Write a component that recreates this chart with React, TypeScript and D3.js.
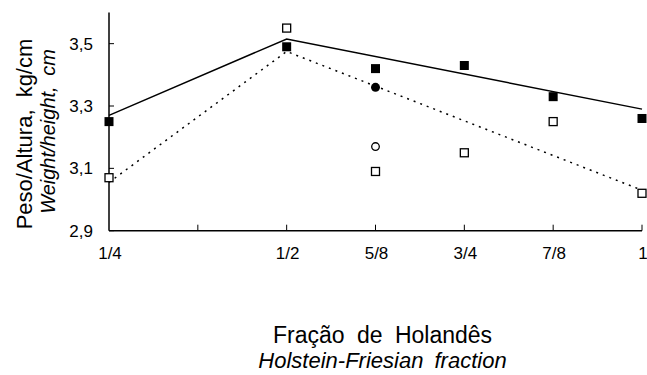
import { useEffect, useRef } from 'react';
import * as d3 from 'd3';

// x positions are Holstein fractions
const fractions = [0.25, 0.5, 0.625, 0.75, 0.875, 1];
const tickValues = [0.25, 0.375, 0.5, 0.625, 0.75, 0.875, 1];
const tickLabels = ['1/4', '', '1/2', '5/8', '3/4', '7/8', '1'];
const yTicks = [2.9, 3.1, 3.3, 3.5];

const filledSquares = [3.25, 3.49, 3.42, 3.43, 3.33, 3.26];
const openSquares = [3.07, 3.55, 3.09, 3.15, 3.25, 3.02];
const filledCircles = [{ x: 0.625, y: 3.36 }];
const openCircles = [{ x: 0.625, y: 3.17 }];

// fitted broken-line curves
const solidFit = [
  { x: 0.25, y: 3.27 },
  { x: 0.5, y: 3.515 },
  { x: 1, y: 3.29 },
];
const dottedFit = [
  { x: 0.25, y: 3.055 },
  { x: 0.5, y: 3.475 },
  { x: 1, y: 3.03 },
];

const W = 647;
const H = 375;
const FONT = 'Liberation Sans, Arial, sans-serif';

export default function App() {
  const svgRef = useRef<SVGSVGElement>(null);

  useEffect(() => {
    if (!svgRef.current) return;
    const svg = d3.select(svgRef.current);
    svg.selectAll('*').remove();

    const x = d3.scaleLinear().domain([0.25, 1]).range([109, 642]);
    const y = d3.scaleLinear().domain([2.9, 3.6]).range([230.7, 12.5]);

    const g = svg.append('g');

    // axes
    g.append('line')
      .attr('x1', x(0.25)).attr('x2', x(0.25))
      .attr('y1', y(3.6)).attr('y2', y(2.9))
      .attr('stroke', '#000').attr('stroke-width', 1.5);
    g.append('line')
      .attr('x1', x(0.25)).attr('x2', x(1))
      .attr('y1', y(2.9)).attr('y2', y(2.9))
      .attr('stroke', '#000').attr('stroke-width', 1.5);

    // y ticks (inward)
    g.selectAll('.yt')
      .data(yTicks)
      .join('line')
      .attr('x1', x(0.25)).attr('x2', x(0.25) + 5)
      .attr('y1', d => y(d)).attr('y2', d => y(d))
      .attr('stroke', '#000').attr('stroke-width', 1);
    g.selectAll('.yl')
      .data(yTicks)
      .join('text')
      .attr('x', 93)
      .attr('y', d => y(d))
      .attr('dy', '0.36em')
      .attr('text-anchor', 'end')
      .style('font-family', FONT)
      .style('font-size', '17px')
      .text(d => d.toFixed(1).replace('.', ','));

    // x ticks (inward)
    g.selectAll('.xt')
      .data(tickValues.slice(1))
      .join('line')
      .attr('x1', d => x(d)).attr('x2', d => x(d))
      .attr('y1', y(2.9)).attr('y2', y(2.9) - 6)
      .attr('stroke', '#000').attr('stroke-width', 1);
    g.selectAll('.xl')
      .data(tickValues)
      .join('text')
      .attr('x', d => x(d) + 1)
      .attr('y', 259)
      .attr('text-anchor', 'middle')
      .style('font-family', FONT)
      .style('font-size', '17px')
      .text((d, i) => tickLabels[i]);

    // fitted lines
    const line = d3.line<{ x: number; y: number }>().x(d => x(d.x)).y(d => y(d.y));
    g.append('path')
      .attr('d', line(solidFit)!)
      .attr('fill', 'none').attr('stroke', '#000').attr('stroke-width', 1.5);
    g.append('path')
      .attr('d', line(dottedFit)!)
      .attr('fill', 'none').attr('stroke', '#000').attr('stroke-width', 1.5)
      .attr('stroke-dasharray', '2,5');

    const s = 9;
    // open squares
    g.selectAll('.os')
      .data(openSquares)
      .join('rect')
      .attr('x', (d, i) => x(fractions[i]) - s / 2 + 0.5)
      .attr('y', d => y(d) - s / 2 + 0.5)
      .attr('width', s - 1).attr('height', s - 1)
      .attr('fill', '#fff').attr('stroke', '#000').attr('stroke-width', 1.3);
    // filled squares
    g.selectAll('.fs')
      .data(filledSquares)
      .join('rect')
      .attr('x', (d, i) => x(fractions[i]) - s / 2)
      .attr('y', d => y(d) - s / 2)
      .attr('width', s).attr('height', s)
      .attr('fill', '#000');
    // circles
    g.selectAll('.fc')
      .data(filledCircles)
      .join('circle')
      .attr('cx', d => x(d.x)).attr('cy', d => y(d.y))
      .attr('r', 4.5).attr('fill', '#000');
    g.selectAll('.oc')
      .data(openCircles)
      .join('circle')
      .attr('cx', d => x(d.x)).attr('cy', d => y(d.y))
      .attr('r', 3.8).attr('fill', '#fff').attr('stroke', '#000').attr('stroke-width', 1.3);

    // y axis titles
    g.append('text')
      .attr('transform', 'translate(32,134) rotate(-90)')
      .attr('text-anchor', 'middle')
      .style('font-family', FONT)
      .style('font-size', '22px')
      .style('word-spacing', '6px')
      .text('Peso/Altura, kg/cm');
    g.append('text')
      .attr('transform', 'translate(55,131.5) rotate(-90)')
      .attr('text-anchor', 'middle')
      .style('font-family', FONT)
      .style('font-size', '20px')
      .style('font-style', 'italic')
      .style('word-spacing', '5px')
      .text('Weight/height, cm');

    // x axis titles
    g.append('text')
      .attr('x', 382.5).attr('y', 343)
      .attr('text-anchor', 'middle')
      .style('font-family', FONT)
      .style('font-size', '23px')
      .style('word-spacing', '6px')
      .text('Fração de Holandês');
    g.append('text')
      .attr('x', 382.5).attr('y', 368)
      .attr('text-anchor', 'middle')
      .style('font-family', FONT)
      .style('font-size', '22px')
      .style('font-style', 'italic')
      .style('word-spacing', '5px')
      .text('Holstein-Friesian fraction');
  }, []);

  return (
    <svg
      ref={svgRef}
      width={W}
      height={H}
      style={{ position: 'absolute', left: 0, top: 0, background: '#fff' }}
    />
  );
}
